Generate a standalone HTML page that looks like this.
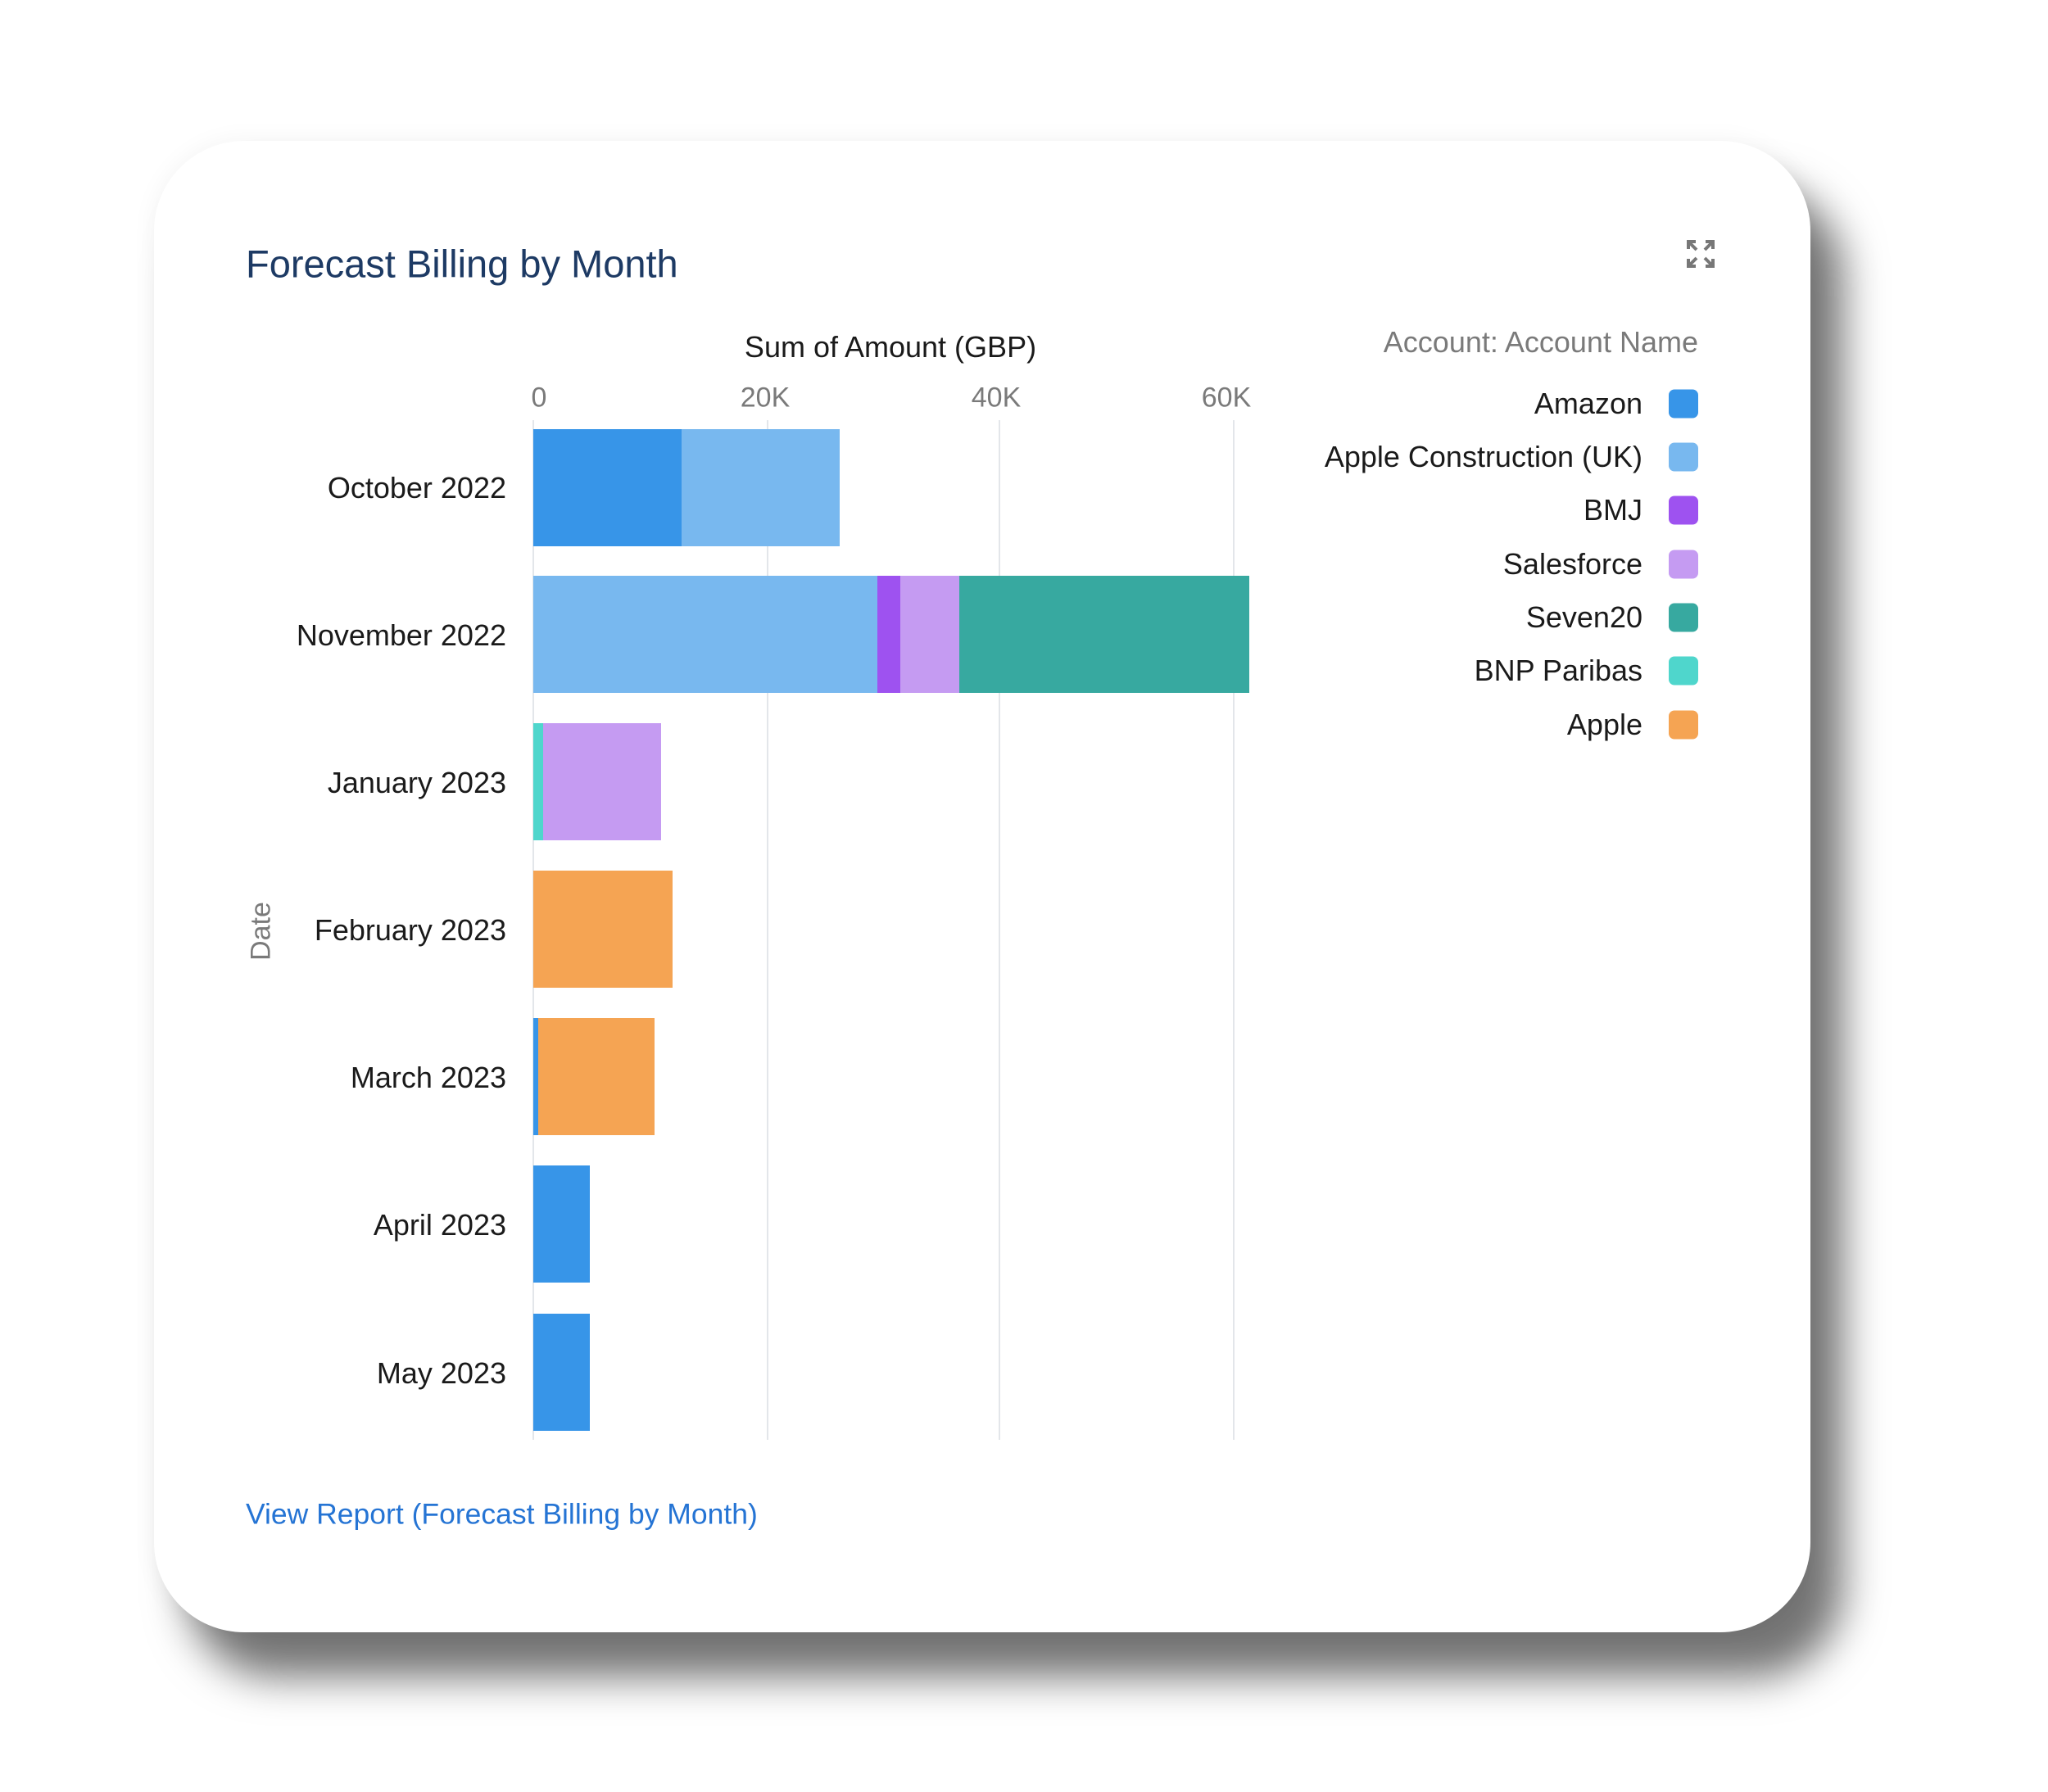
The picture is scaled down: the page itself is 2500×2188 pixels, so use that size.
<!DOCTYPE html>
<html><head><meta charset="utf-8"><style>
html,body{margin:0;padding:0;background:#fff;}
body{width:2500px;height:2188px;position:relative;overflow:hidden;font-family:"Liberation Sans",Arial,sans-serif;}
.card{position:absolute;left:188px;top:172px;width:2022px;height:1821px;background:#fff;border-radius:110px;box-shadow:40px 55px 50px rgba(0,0,0,0.55),0 0 30px rgba(0,0,0,0.05);}
.a{position:absolute;white-space:nowrap;}
.lab{position:absolute;right:1882px;font-size:36px;color:#1a1a1a;transform:translateY(-50%);}
.bar{position:absolute;height:143px;}
.grid{position:absolute;top:513px;height:1245px;width:2px;background:#e3e6ea;}
.tick{position:absolute;top:486px;font-size:34px;color:#7a7a7a;transform:translate(-50%,-50%);}
.lg{position:absolute;right:495px;font-size:36px;color:#1a1a1a;transform:translateY(-50%);}
.sw{position:absolute;left:2037px;width:36px;height:35px;border-radius:7px;transform:translateY(-50%);}
</style></head><body>
<div class="card"></div>
<div class="a" style="left:300px;top:322px;transform:translateY(-50%);font-size:47px;color:#1d3a64;">Forecast Billing by Month</div>
<svg class="a" style="left:2058px;top:292px" width="36" height="36" viewBox="0 0 36 36" fill="none" stroke="#777" stroke-width="4">
<path d="M3 12V3h9M3 3l10 10M33 12V3h-9M33 3L23 13M3 24v9h9M3 33l10-10M33 24v9h-9M33 33L23 23"/></svg>
<div class="a" style="left:1087px;top:424px;transform:translate(-50%,-50%);font-size:36px;color:#1a1a1a;">Sum of Amount (GBP)</div>
<div class="grid" style="left:650px"></div>
<div class="grid" style="left:936px"></div>
<div class="grid" style="left:1219px"></div>
<div class="grid" style="left:1505px"></div>
<div class="tick" style="left:658px">0</div>
<div class="tick" style="left:934px">20K</div>
<div class="tick" style="left:1216px">40K</div>
<div class="tick" style="left:1497px">60K</div>

<div class="bar" style="top:524px;left:651px;width:181px;background:#3795e8"></div>
<div class="bar" style="top:524px;left:832px;width:193px;background:#78b8ef"></div>

<div class="bar" style="top:703px;left:651px;width:420px;background:#78b8ef"></div>
<div class="bar" style="top:703px;left:1071px;width:28px;background:#9e52f0"></div>
<div class="bar" style="top:703px;left:1099px;width:72px;background:#c59bf2"></div>
<div class="bar" style="top:703px;left:1171px;width:354px;background:#37a9a0"></div>

<div class="bar" style="top:883px;left:651px;width:12px;background:#4fd6cc"></div>
<div class="bar" style="top:883px;left:663px;width:144px;background:#c59bf2"></div>

<div class="bar" style="top:1063px;left:651px;width:170px;background:#f5a453"></div>

<div class="bar" style="top:1243px;left:651px;width:6px;background:#3795e8"></div>
<div class="bar" style="top:1243px;left:657px;width:142px;background:#f5a453"></div>

<div class="bar" style="top:1423px;left:651px;width:69px;background:#3795e8"></div>
<div class="bar" style="top:1604px;left:651px;width:69px;background:#3795e8"></div>

<div class="lab" style="top:596px">October 2022</div>
<div class="lab" style="top:776px">November 2022</div>
<div class="lab" style="top:956px">January 2023</div>
<div class="lab" style="top:1136px">February 2023</div>
<div class="lab" style="top:1316px">March 2023</div>
<div class="lab" style="top:1496px">April 2023</div>
<div class="lab" style="top:1677px">May 2023</div>

<div class="a" style="left:319px;top:1137px;transform:translate(-50%,-50%) rotate(-90deg);font-size:34px;color:#7a7a7a;">Date</div>

<div class="a" style="right:427px;top:418px;transform:translateY(-50%);font-size:36px;color:#7a7a7a;">Account: Account Name</div>
<div class="lg" style="top:493px">Amazon</div><div class="sw" style="top:493px;background:#3795e8"></div>
<div class="lg" style="top:558px">Apple Construction (UK)</div><div class="sw" style="top:558px;background:#78b8ef"></div>
<div class="lg" style="top:623px">BMJ</div><div class="sw" style="top:623px;background:#9e52f0"></div>
<div class="lg" style="top:689px">Salesforce</div><div class="sw" style="top:689px;background:#c59bf2"></div>
<div class="lg" style="top:754px">Seven20</div><div class="sw" style="top:754px;background:#37a9a0"></div>
<div class="lg" style="top:819px">BNP Paribas</div><div class="sw" style="top:819px;background:#4fd6cc"></div>
<div class="lg" style="top:885px">Apple</div><div class="sw" style="top:885px;background:#f5a453"></div>

<div class="a" style="left:300px;top:1849px;transform:translateY(-50%);font-size:35.5px;color:#2574d4;">View Report (Forecast Billing by Month)</div>
</body></html>
